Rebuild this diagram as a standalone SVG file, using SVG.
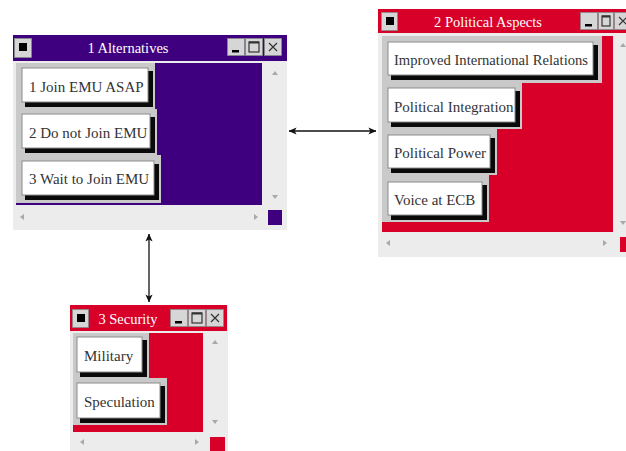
<svg xmlns="http://www.w3.org/2000/svg" width="626" height="451" viewBox="0 0 626 451">
  <style>
    .frame { fill: #ececec; }
    .tbtn { fill: #d6d6d6; stroke: #8a8a8a; stroke-width: 0.8; }
    .glyph { fill: none; stroke: #333; stroke-width: 1.2; }
    .dot { fill: #000; }
    .title { font-family: "Liberation Serif", "Times New Roman", serif; font-size: 14.5px; fill: #ffffff; text-anchor: middle; }
    .label { font-family: "Liberation Serif", "Times New Roman", serif; font-size: 15px; fill: #333333; }
    .plate { fill: #c9c9c9; }
    .shadow { fill: #0a0a0a; }
    .face { fill: #ffffff; stroke: #8c8c8c; stroke-width: 1; }
    .scroll { fill: #a8a8a8; }
    .purple { fill: #3f0080; }
    .red { fill: #d80028; }
    .link { stroke: #111; stroke-width: 1.3; fill: none; marker-start: url(#tip); marker-end: url(#tip); }
  </style>
  <defs>
    <marker id="tip" viewBox="0 0 10 10" refX="9.5" refY="5" markerWidth="8" markerHeight="8" markerUnits="userSpaceOnUse" orient="auto-start-reverse">
      <path d="M0,0.5 L10,5 L0,9.5 L2.5,5 Z" fill="#111"/>
    </marker>
  </defs>

  <rect width="626" height="451" fill="#ffffff"/>

  <!-- connectors -->
  <g id="connectors">
    <line class="link" x1="289" y1="131" x2="376" y2="131"/>
    <line class="link" x1="149" y1="234" x2="149" y2="302"/>
  </g>

  <!-- window 1: Alternatives -->
  <g id="alternatives">
    <rect class="frame" x="13" y="35" width="274" height="195"/>
    <rect class="purple" x="13" y="35" width="274" height="26"/>
    <rect class="tbtn" x="14.5" y="38.5" width="17" height="19"/>
    <rect class="dot" x="19" y="43" width="8" height="8"/>
    <text class="title" x="128" y="53">1 Alternatives</text>
    <rect class="tbtn" x="227.5" y="38.5" width="17" height="17"/>
    <rect class="dot" x="232" y="50" width="7" height="2.5"/>
    <rect class="tbtn" x="245.5" y="38.5" width="17" height="17"/>
    <rect class="glyph" x="249" y="42" width="10" height="10"/>
    <line x1="249" y1="42.5" x2="259" y2="42.5" stroke="#333" stroke-width="2"/>
    <rect class="tbtn" x="264.5" y="38.5" width="17" height="17"/>
    <path class="glyph" d="M269,43 L277,51 M277,43 L269,51"/>
    <rect class="purple" x="16" y="63" width="246" height="142"/>
    <!-- scrollbars -->
    <path class="scroll" d="M272,75 L275,71 L278,75 Z"/>
    <path class="scroll" d="M272,195 L275,199 L278,195 Z"/>
    <path class="scroll" d="M24,214 L20,217 L24,220 Z"/>
    <path class="scroll" d="M254,214 L258,217 L254,220 Z"/>
    <rect class="purple" x="268" y="210" width="14" height="15"/>
    <!-- buttons -->
    <g id="alt-1">
      <rect class="plate" x="16" y="63" width="139" height="46"/>
      <rect class="shadow" x="25" y="71" width="128" height="36"/>
      <rect class="face" x="22" y="68" width="126" height="34"/>
      <text class="label" x="29" y="92">1 Join EMU ASAP</text>
    </g>
    <g id="alt-2">
      <rect class="plate" x="16" y="109" width="141" height="46"/>
      <rect class="shadow" x="25" y="117" width="130" height="36"/>
      <rect class="face" x="22" y="114" width="128" height="34"/>
      <text class="label" x="29" y="137.5">2 Do not Join EMU</text>
    </g>
    <g id="alt-3">
      <rect class="plate" x="16" y="155" width="145" height="48"/>
      <rect class="shadow" x="25" y="164" width="134" height="36"/>
      <rect class="face" x="22" y="161" width="132" height="34"/>
      <text class="label" x="29" y="184">3 Wait to Join EMU</text>
    </g>
  </g>

  <!-- window 2: Political Aspects -->
  <g id="political">
    <rect class="frame" x="378" y="9" width="248" height="248"/>
    <rect class="red" x="378" y="9" width="248" height="24"/>
    <rect class="tbtn" x="381.5" y="12.5" width="16" height="18"/>
    <rect class="dot" x="386" y="17" width="8" height="8"/>
    <text class="title" x="488" y="27">2 Political Aspects</text>
    <rect class="tbtn" x="580.5" y="12.5" width="17" height="17"/>
    <rect class="dot" x="585" y="24" width="7" height="2.5"/>
    <rect class="tbtn" x="598.5" y="12.5" width="15" height="17"/>
    <rect class="glyph" x="602" y="16" width="8" height="10"/>
    <line x1="602" y1="16.5" x2="610" y2="16.5" stroke="#333" stroke-width="2"/>
    <rect class="tbtn" x="614.5" y="12.5" width="14" height="17"/>
    <path class="glyph" d="M619,17 L627,25 M627,17 L619,25"/>
    <rect class="red" x="382" y="36" width="231" height="196"/>
    <path class="scroll" d="M620,47 L623,43 L626,47 Z"/>
    <path class="scroll" d="M620,221 L623,225 L626,221 Z"/>
    <path class="scroll" d="M390,240 L386,243 L390,246 Z"/>
    <path class="scroll" d="M603,240 L607,243 L603,246 Z"/>
    <rect class="red" x="620" y="237" width="6" height="15"/>
    <g id="pol-1">
      <rect class="plate" x="382" y="36" width="220" height="47"/>
      <rect class="shadow" x="391" y="45" width="207" height="35"/>
      <rect class="face" x="388" y="42" width="205" height="33"/>
      <text class="label" x="394" y="65" textLength="194" lengthAdjust="spacingAndGlyphs">Improved International Relations</text>
    </g>
    <g id="pol-2">
      <rect class="plate" x="382" y="83" width="140" height="46"/>
      <rect class="shadow" x="391" y="91" width="129" height="36"/>
      <rect class="face" x="388" y="88" width="127" height="34"/>
      <text class="label" x="394" y="111.5">Political Integration</text>
    </g>
    <g id="pol-3">
      <rect class="plate" x="382" y="129" width="115" height="46"/>
      <rect class="shadow" x="391" y="138" width="104" height="35"/>
      <rect class="face" x="388" y="135" width="102" height="33"/>
      <text class="label" x="394" y="158">Political Power</text>
    </g>
    <g id="pol-4">
      <rect class="plate" x="382" y="175" width="107" height="47"/>
      <rect class="shadow" x="391" y="185" width="96" height="35"/>
      <rect class="face" x="388" y="182" width="94" height="33"/>
      <text class="label" x="394" y="205">Voice at ECB</text>
    </g>
  </g>

  <!-- window 3: Security -->
  <g id="security">
    <rect class="frame" x="70" y="305" width="158" height="146"/>
    <rect class="red" x="70" y="305" width="157" height="26"/>
    <rect class="tbtn" x="72.5" y="309.5" width="16" height="18"/>
    <rect class="dot" x="77" y="314" width="8" height="8"/>
    <text class="title" x="128" y="324">3 Security</text>
    <rect class="tbtn" x="170.5" y="309.5" width="17" height="17"/>
    <rect class="dot" x="175" y="321" width="7" height="2.5"/>
    <rect class="tbtn" x="188.5" y="309.5" width="17" height="17"/>
    <rect class="glyph" x="192" y="313" width="10" height="10"/>
    <line x1="192" y1="313.5" x2="202" y2="313.5" stroke="#333" stroke-width="2"/>
    <rect class="tbtn" x="206.5" y="309.5" width="17" height="17"/>
    <path class="glyph" d="M211,314 L219,322 M219,314 L211,322"/>
    <rect class="red" x="73" y="333" width="130" height="99"/>
    <path class="scroll" d="M212,344 L215,340 L218,344 Z"/>
    <path class="scroll" d="M212,420 L215,424 L218,420 Z"/>
    <path class="scroll" d="M84,439 L80,442 L84,445 Z"/>
    <path class="scroll" d="M195,439 L199,442 L195,445 Z"/>
    <rect class="red" x="210" y="437" width="15" height="14"/>
    <g id="sec-1">
      <rect class="plate" x="73" y="333" width="76" height="45"/>
      <rect class="shadow" x="80" y="340" width="67" height="37"/>
      <rect class="face" x="77" y="337" width="65" height="35"/>
      <text class="label" x="84" y="361">Military</text>
    </g>
    <g id="sec-2">
      <rect class="plate" x="73" y="378" width="94" height="47"/>
      <rect class="shadow" x="80" y="386" width="85" height="37"/>
      <rect class="face" x="77" y="383" width="83" height="35"/>
      <text class="label" x="84" y="407">Speculation</text>
    </g>
  </g>
</svg>
